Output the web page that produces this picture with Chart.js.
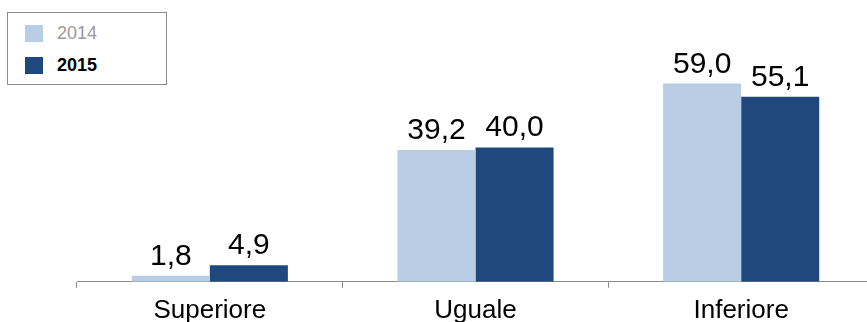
<!DOCTYPE html>
<html>
<head>
<meta charset="utf-8">
<script src="https://cdn.jsdelivr.net/npm/chart.js@4/dist/chart.umd.min.js"></script>
<style>
  html, body { margin: 0; padding: 0; background: #fff; overflow: hidden; }
  #wrap { position: relative; width: 874px; height: 333px; }
  #legend {
    position: absolute; left: 7px; top: 12px; width: 158px; height: 71px;
    border: 1px solid #8c8c8c; background: #fff;
    font-family: "Liberation Sans", Arial, sans-serif; font-size: 18px;
  }
  .item { position: absolute; left: 17px; height: 18px; display: flex; align-items: center; }
  .swatch { width: 18px; height: 17px; margin-right: 14px; }
</style>
</head>
<body>
<div id="wrap">
  <canvas id="chart" width="874" height="333"></canvas>
  <div id="legend"></div>
</div>
<script>
const categories = ["Superiore", "Uguale", "Inferiore"];
const seriesNames = ["2014", "2015"];
const values2014 = [1.8, 39.2, 59.0];
const values2015 = [4.9, 40.0, 55.1];

const colors = ["#b9cde5", "#1f497d"];
const legendText = [
  { color: "#9a9a9a", weight: "normal" },
  { color: "#000000", weight: "bold" },
];

function formatValue(value) {
  return new Intl.NumberFormat("it-IT", { minimumFractionDigits: 1, maximumFractionDigits: 1 }).format(value);
}

// etichette sopra le barre
const valueLabels = {
  id: "valueLabels",
  afterDatasetsDraw(chart) {
    const ctx = chart.ctx;
    ctx.save();
    ctx.font = '30px "Liberation Sans", Arial, sans-serif';
    ctx.fillStyle = "#000";
    ctx.textAlign = "center";
    ctx.textBaseline = "alphabetic";
    chart.data.datasets.forEach((ds, i) => {
      chart.getDatasetMeta(i).data.forEach((bar, j) => {
        ctx.fillText(formatValue(ds.data[j]), bar.x, bar.y - 11);
      });
    });
    ctx.restore();
  },
};

function renderLegend(datasets) {
  const legend = document.getElementById("legend");
  legend.innerHTML = datasets
    .map((ds, i) => {
      const top = 11 + i * 32;
      const t = legendText[i];
      return `<div class="item" style="top:${top}px"><span class="swatch" style="background:${ds.backgroundColor}"></span>` +
        `<span style="color:${t.color};font-weight:${t.weight}">${ds.label}</span></div>`;
    })
    .join("");
}

const datasets = [
  { label: seriesNames[0], data: values2014, backgroundColor: colors[0] },
  { label: seriesNames[1], data: values2015, backgroundColor: colors[1] },
];

new Chart(document.getElementById("chart"), {
  type: "bar",
  data: { labels: categories, datasets },
  options: {
    responsive: false,
    animation: false,
    events: [],
    layout: { padding: { left: 77, right: 0, top: 13, bottom: 0 } },
    datasets: { bar: { categoryPercentage: 0.5876, barPercentage: 1 } },
    scales: {
      x: {
        grid: { display: true, drawOnChartArea: false, drawTicks: true, tickLength: 6, color: "#8c8c8c" },
        border: { display: true, color: "#8c8c8c", width: 1 },
        ticks: {
          color: "#000",
          padding: 7,
          font: { family: "'Liberation Sans', Arial, sans-serif", size: 26 },
        },
      },
      y: { display: false, min: 0, max: 80 },
    },
    plugins: { legend: { display: false }, tooltip: { enabled: false } },
  },
  plugins: [valueLabels],
});

renderLegend(datasets);
</script>
</body>
</html>
